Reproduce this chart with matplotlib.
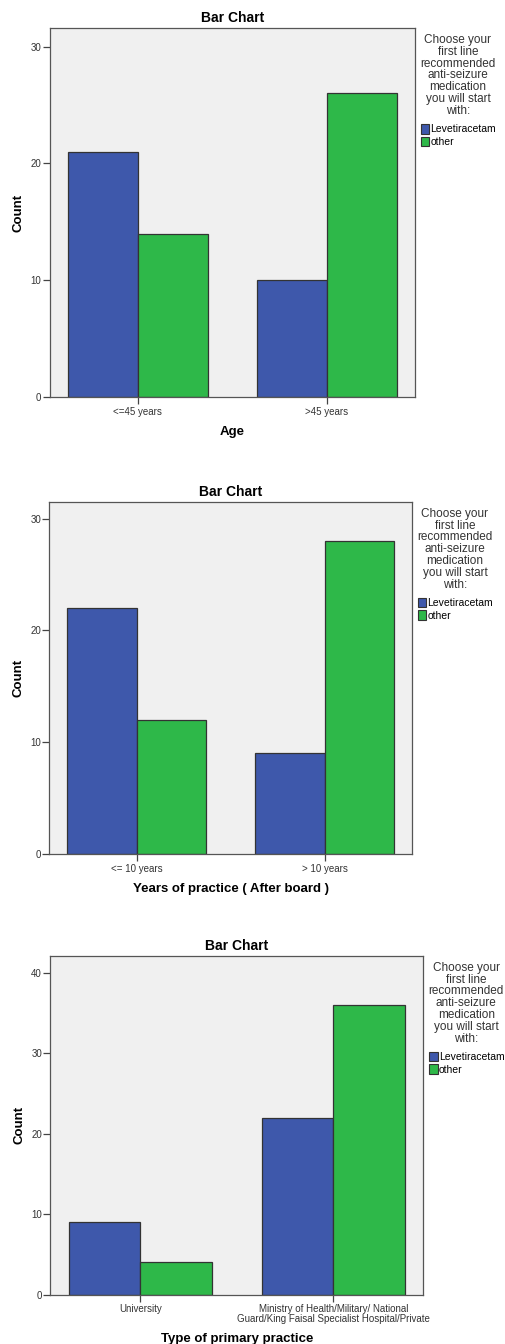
import matplotlib.pyplot as plt
import numpy as np
from matplotlib.patches import Patch

plt.rcParams['font.family'] = ['Liberation Sans', 'DejaVu Sans']

# series names and panel data
series = ['Levetiracetam', 'other']
legend_title = 'Choose your\nfirst line\nrecommended\nanti-seizure\nmedication\nyou will start\nwith:'

age_cats = ['<=45 years', '>45 years']
age_lev = [21, 10]
age_other = [14, 26]

years_cats = ['<= 10 years', '> 10 years']
years_lev = [22, 9]
years_other = [12, 28]

practice_cats = ['University', 'Ministry of Health/Military/ National\nGuard/King Faisal Specialist Hospital/Private']
practice_lev = [9, 22]
practice_other = [4, 36]

blue = '#3e58ab'
green = '#2eb849'
edge = '#333333'

W, H = 506, 1344
fig = plt.figure(figsize=(W / 100, H / 100), dpi=100)


def panel(box, cats, lev, other, xlabel, ymax, yticks):
    left, right, top, bottom = box
    ax = fig.add_axes([left / W, 1 - bottom / H, (right - left) / W, (bottom - top) / H])
    ax.set_facecolor('#f0f0f0')
    x = np.arange(len(cats))
    w = 0.37
    ax.bar(x - w / 2, lev, w, color=blue, edgecolor=edge, linewidth=0.9, label=series[0])
    ax.bar(x + w / 2, other, w, color=green, edgecolor=edge, linewidth=0.9, label=series[1])
    ax.set_xlim(-0.466, 1.466)
    ax.set_ylim(0, ymax)
    ax.set_yticks(yticks)
    ax.set_xticks(x)
    ax.set_xticklabels(cats, fontsize=7, color='#333333', linespacing=0.95)
    ax.tick_params(axis='y', labelsize=7, labelcolor='#333333', length=5, width=0.9, color='#444444', pad=1)
    ax.tick_params(axis='x', length=5, width=0.9, color='#444444', pad=2)
    for s in ax.spines.values():
        s.set_color('#555555')
        s.set_linewidth(0.9)
    ax.set_title('Bar Chart', fontsize=10, fontweight='bold', pad=4)
    ax.set_ylabel('Count', fontsize=9.5, fontweight='bold', labelpad=4)
    ax.set_xlabel(xlabel, fontsize=9.5, fontweight='bold', labelpad=6.5)

    # legend title and entries to the right of the axes
    fig.text((right + 43) / W, 1 - (top + 6) / H, legend_title, ha='center', va='top',
             fontsize=8.5, color='#333333', linespacing=0.98, multialignment='center')
    handles = [Patch(facecolor=blue, edgecolor=edge, linewidth=0.8),
               Patch(facecolor=green, edgecolor=edge, linewidth=0.8)]
    ax.legend(handles, series, loc='upper left', bbox_to_anchor=((right + 6) / W, 1 - (top + 96) / H),
              bbox_transform=fig.transFigure, frameon=False, fontsize=7.5, handlelength=0.8,
              handleheight=1.05, handletextpad=0.12, labelspacing=0.22, borderpad=0, borderaxespad=0)
    return ax


panel((49.5, 415, 28, 397), age_cats, age_lev, age_other, 'Age', 31.6, [0, 10, 20, 30])
panel((49.3, 412, 501.7, 854), years_cats, years_lev, years_other, 'Years of practice ( After board )', 31.52, [0, 10, 20, 30])
panel((50.3, 423.3, 955.7, 1294.7), practice_cats, practice_lev, practice_other, 'Type of primary practice', 42.1, [0, 10, 20, 30, 40])

fig.savefig('out.png', dpi=100, facecolor='white')
